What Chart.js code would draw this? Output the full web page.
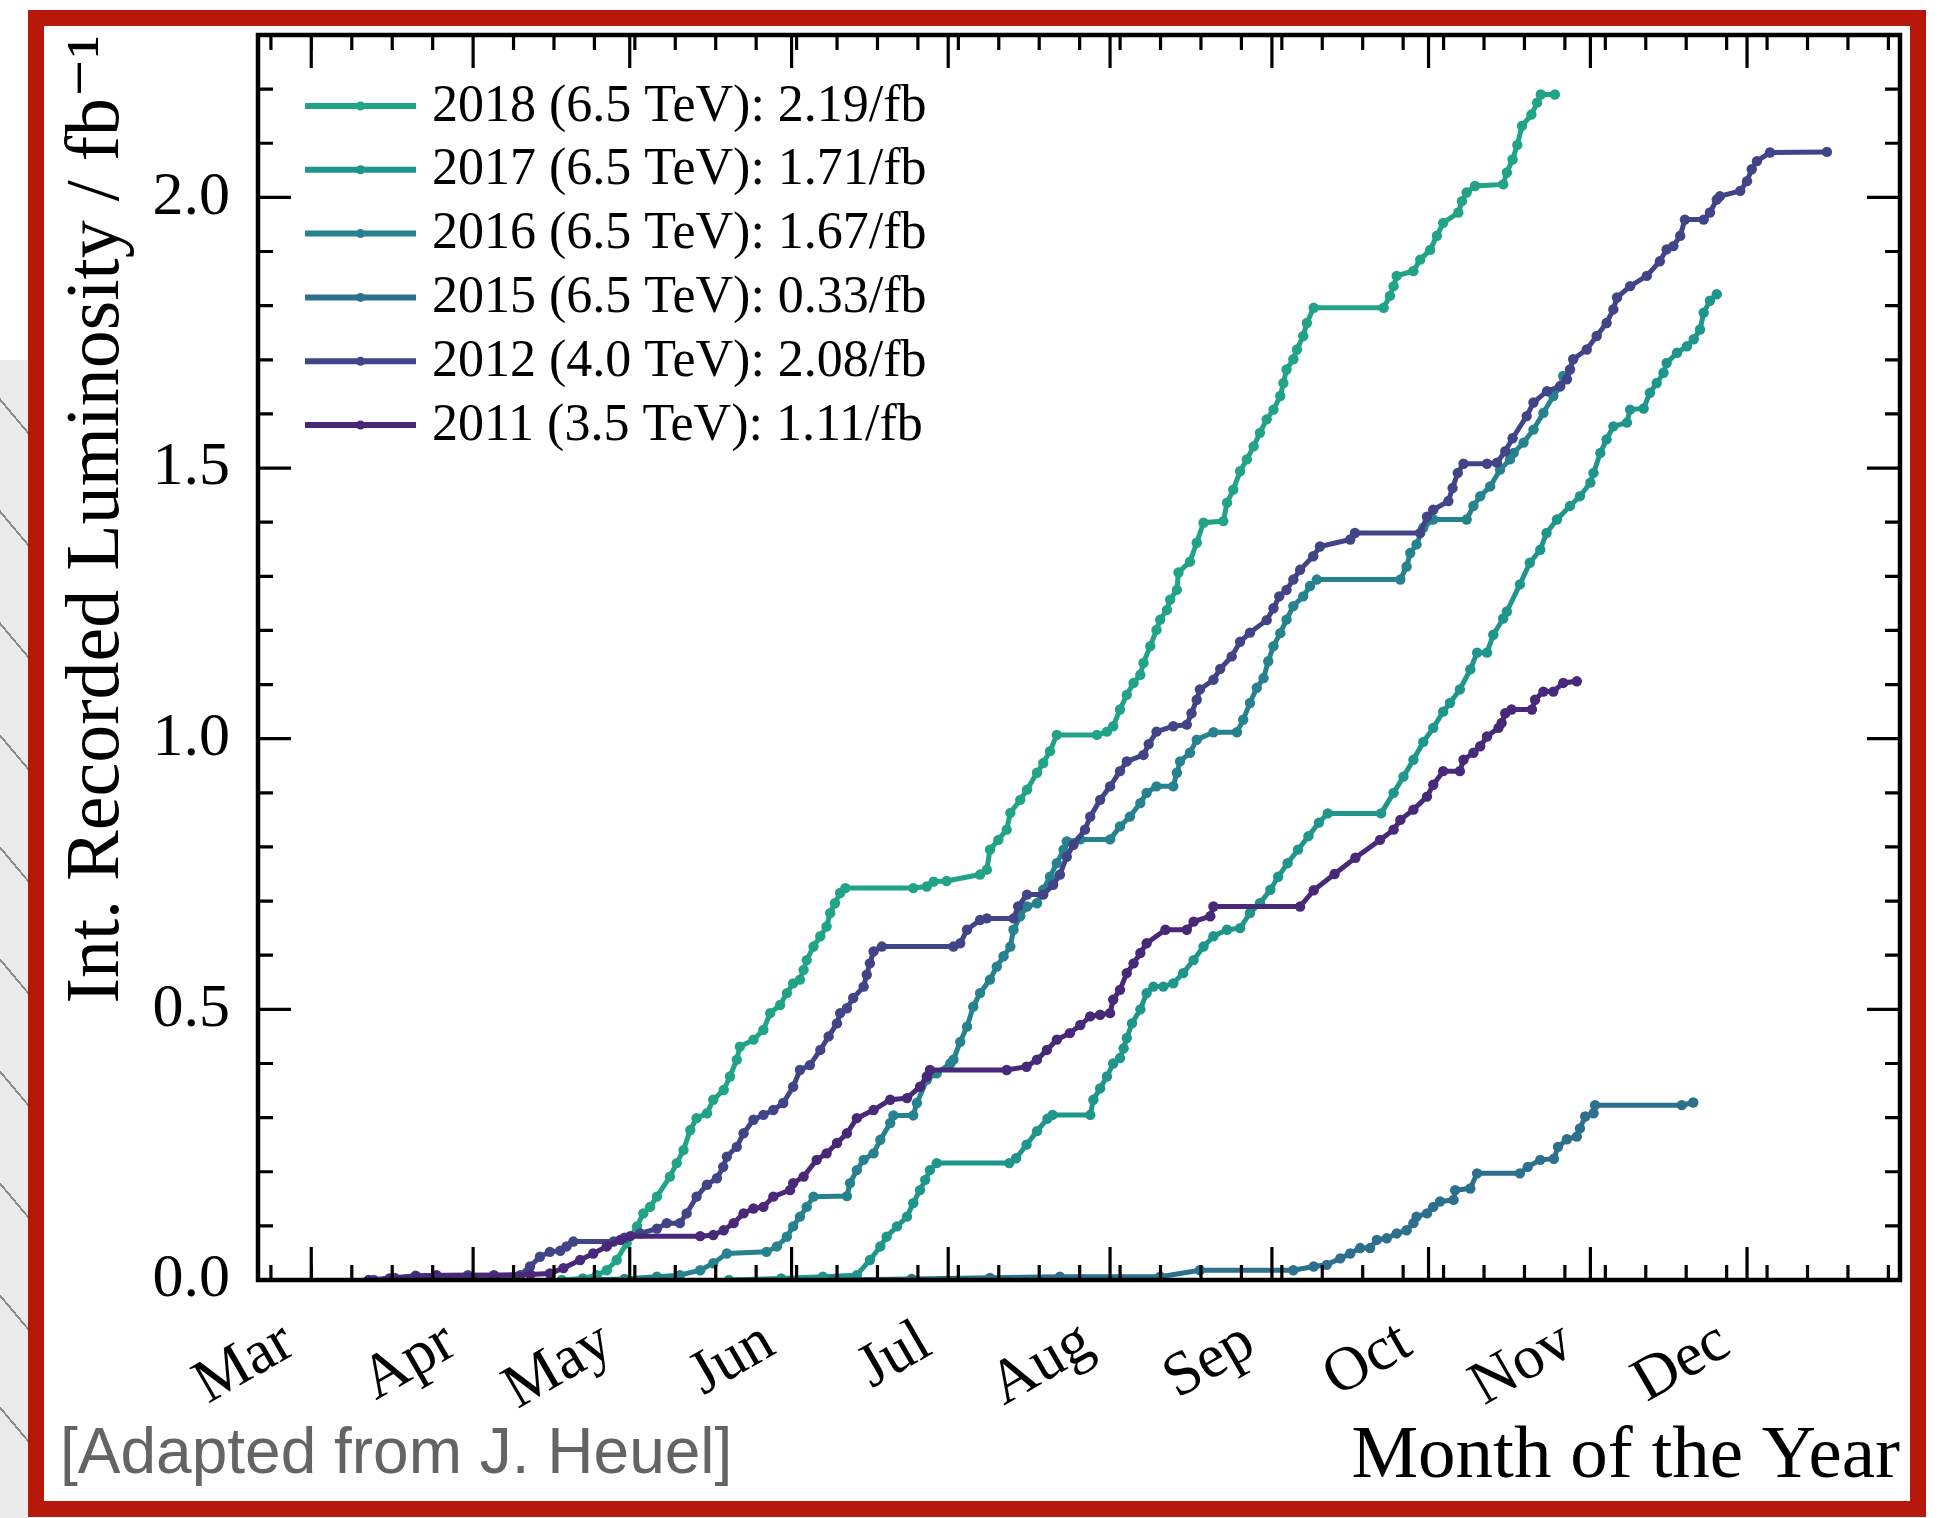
<!DOCTYPE html>
<html>
<head>
<meta charset="utf-8">
<title>Recorded luminosity per year</title>
<script src="https://cdn.jsdelivr.net/npm/chart.js@4.4.0/dist/chart.umd.min.js"></script>
<style>
  html, body { margin: 0; padding: 0; background: #fff; }
  body { width: 1942px; height: 1518px; position: relative; overflow: hidden; }
  #sketch {
    position: absolute; left: 0; top: 360px; width: 30px; height: 1158px;
    background: repeating-linear-gradient(50deg, #ebebeb 0 70px, #8c8c8c 70px 72px);
  }
  #lumiChart { position: absolute; left: 0; top: 0; z-index: 1; }
  #frame {
    position: absolute; left: 28px; top: 10px; width: 1898px; height: 1507px;
    box-sizing: border-box; border: 16px solid #b8170b; z-index: 2; pointer-events: none;
  }
</style>
</head>
<body>
<div id="sketch"></div>
<canvas id="lumiChart" width="1942" height="1518"></canvas>
<div id="frame"></div>
<script>
(function() {
  'use strict';

  // x values are day of year (non-leap year), y values in fb^-1
  var monthStarts = [60, 91, 121, 152, 182, 213, 244, 274, 305, 335];
  var monthLabels = ['Mar', 'Apr', 'May', 'Jun', 'Jul', 'Aug', 'Sep', 'Oct', 'Nov', 'Dec'];
  var yTicks = [0, 0.5, 1.0, 1.5, 2.0];

  var days2018 = [108, 112, 114.7, 116.6, 118.5, 120.4, 122.4, 123.6, 124.9, 126.2,
    128.7, 130, 131.3, 132.6, 133.8, 135.8, 137, 139, 140.2, 141.5,
    142.1, 144.7, 146.6, 147.9, 149.8, 151.1, 152.3, 153.6, 154.3, 154.9,
    156.2, 157.5, 158.7, 159.4, 160.3, 161.3, 162.3, 175.3, 177.9, 179.2,
    181.7, 188.1, 189.4, 190, 191.6, 193.2, 193.9, 195.8, 197.1, 199,
    200.2, 201.5, 202.8, 210.5, 212.4, 213.6, 214.9, 216.2, 217.5, 218.8,
    219.4, 220.7, 221.9, 222.6, 223.9, 224.5, 225.8, 226.1, 228.3, 229.6,
    230.9, 234.7, 235.4, 236.6, 237.9, 239.2, 240.5, 241.7, 243, 244.3,
    245.6, 246.2, 246.8, 248.1, 248.8, 250, 250.7, 252, 265.4, 266.6,
    267.3, 267.9, 271.1, 272.4, 274.3, 275.6, 276.8, 279.7, 280.4, 281.3,
    282.9, 288.3, 289, 290.1, 291, 291.9, 293.7, 294.8, 295.5, 298.2];
  var lumi2018 = [0, 0.003, 0.009, 0.018, 0.037, 0.068, 0.099, 0.123, 0.135, 0.154,
    0.191, 0.216, 0.240, 0.277, 0.299, 0.308, 0.333, 0.351, 0.376, 0.407,
    0.431, 0.444, 0.462, 0.493, 0.508, 0.530, 0.548, 0.555, 0.573, 0.591,
    0.616, 0.635, 0.653, 0.678, 0.696, 0.715, 0.724, 0.724, 0.727, 0.736,
    0.737, 0.749, 0.758, 0.795, 0.813, 0.832, 0.863, 0.887, 0.906, 0.937,
    0.955, 0.977, 1.007, 1.007, 1.013, 1.023, 1.054, 1.081, 1.103, 1.118,
    1.140, 1.171, 1.201, 1.220, 1.238, 1.257, 1.275, 1.307, 1.327, 1.362,
    1.399, 1.402, 1.436, 1.460, 1.494, 1.516, 1.540, 1.565, 1.590, 1.608,
    1.633, 1.657, 1.682, 1.701, 1.719, 1.744, 1.768, 1.796, 1.796, 1.818,
    1.836, 1.855, 1.864, 1.885, 1.903, 1.929, 1.953, 1.972, 1.993, 2.009,
    2.021, 2.024, 2.046, 2.070, 2.097, 2.132, 2.153, 2.175, 2.190, 2.190];

  var days2017 = [140, 150, 158, 164.5, 167, 169, 170.2, 172.2, 174.1, 175.3,
    176.6, 177.6, 178.5, 179.8, 193.7, 195, 197, 199, 201, 202,
    209.2, 209.8, 211.1, 212.4, 213.6, 214.9, 215.6, 216.2, 217.2, 218.8,
    220, 221.3, 223.2, 225.1, 227, 229, 230.9, 232.8, 235.4, 237.9,
    239.8, 241.7, 243.7, 245.2, 247, 249, 251, 253, 254.7, 264.9,
    267.3, 269.2, 271.1, 273, 274.9, 276.8, 278.1, 280, 282, 283.3,
    285.2, 286.4, 288.3, 289, 291.5, 293.4, 295.4, 296.6, 298.6, 301.1,
    303, 305, 305.6, 306.9, 308.1, 309.4, 312, 312.6, 315.2, 316.4,
    317.7, 319, 319.6, 321.6, 323.5, 324.8, 326, 326.7, 327.9, 329.2];
  var lumi2017 = [0, 0.003, 0.006, 0.009, 0.037, 0.062, 0.080, 0.099, 0.117, 0.142,
    0.166, 0.185, 0.203, 0.216, 0.216, 0.225, 0.250, 0.275, 0.298, 0.305,
    0.305, 0.333, 0.354, 0.376, 0.400, 0.410, 0.428, 0.447, 0.474, 0.500,
    0.530, 0.542, 0.542, 0.548, 0.567, 0.591, 0.616, 0.635, 0.647, 0.650,
    0.678, 0.696, 0.721, 0.745, 0.770, 0.795, 0.820, 0.845, 0.862, 0.862,
    0.900, 0.930, 0.961, 0.994, 1.020, 1.050, 1.066, 1.091, 1.128, 1.159,
    1.159, 1.192, 1.222, 1.235, 1.285, 1.325, 1.349, 1.380, 1.405, 1.430,
    1.448, 1.473, 1.491, 1.528, 1.553, 1.577, 1.584, 1.608, 1.610, 1.639,
    1.657, 1.676, 1.694, 1.713, 1.725, 1.738, 1.756, 1.787, 1.809, 1.821];

  var days2016 = [112, 120, 126.2, 130.6, 134.5, 137, 139.6, 147.2, 149.2, 151.1,
    152.3, 153.6, 154.9, 156.2, 162.6, 163.2, 164.5, 165.8, 167.7, 169,
    170.9, 171.5, 175.3, 176, 177.9, 179.8, 182.4, 183, 184.3, 185.6,
    186.8, 188.1, 190, 191.3, 192.6, 193.9, 194.5, 195.8, 197.1, 199,
    200.2, 201.5, 202.8, 204.1, 204.7, 207.3, 213, 214.9, 216.8, 218.8,
    220, 221.9, 225.1, 225.8, 226.4, 228.3, 229.6, 232.8, 237.3, 238.5,
    239.8, 241.1, 242.4, 243.3, 244.3, 245.6, 246.8, 248.1, 250, 251.3,
    252.6, 268.6, 269.8, 270.5, 271.7, 273, 274.9, 281.3, 282.6, 283.9,
    285.8, 287.7, 289.6, 290.3, 292.2, 294.1, 296, 297.9, 299.2, 299.8];
  var lumi2016 = [0, 0.002, 0.006, 0.009, 0.018, 0.031, 0.049, 0.052, 0.062, 0.080,
    0.099, 0.117, 0.135, 0.154, 0.155, 0.179, 0.203, 0.222, 0.234, 0.259,
    0.290, 0.304, 0.304, 0.327, 0.370, 0.382, 0.400, 0.407, 0.440, 0.468,
    0.505, 0.530, 0.555, 0.579, 0.598, 0.616, 0.647, 0.672, 0.690, 0.696,
    0.721, 0.745, 0.770, 0.795, 0.810, 0.814, 0.814, 0.838, 0.856, 0.881,
    0.900, 0.912, 0.912, 0.937, 0.958, 0.974, 0.998, 1.012, 1.012, 1.035,
    1.066, 1.094, 1.112, 1.143, 1.171, 1.195, 1.220, 1.245, 1.263, 1.282,
    1.294, 1.294, 1.318, 1.343, 1.359, 1.390, 1.405, 1.405, 1.430, 1.448,
    1.466, 1.497, 1.516, 1.528, 1.547, 1.571, 1.602, 1.633, 1.651, 1.670];

  var days2015 = [160, 175, 190, 203.4, 222.6, 230.2, 248.1, 252, 254.5, 257.1,
    259, 260.9, 262.8, 264.1, 266, 267.9, 269.8, 271.1, 271.7, 273.7,
    274.9, 276.2, 278.8, 279.1, 282, 283.3, 291.5, 293, 295.4, 298,
    298.8, 300.5, 302.4, 303, 304, 305.6, 305.9, 322.5, 324.7];
  var lumi2015 = [0, 0.002, 0.004, 0.006, 0.006, 0.018, 0.018, 0.025, 0.028, 0.040,
    0.049, 0.059, 0.059, 0.074, 0.077, 0.086, 0.092, 0.105, 0.117, 0.123,
    0.135, 0.145, 0.148, 0.166, 0.169, 0.197, 0.197, 0.209, 0.222, 0.224,
    0.246, 0.260, 0.265, 0.280, 0.302, 0.308, 0.323, 0.323, 0.328];

  var days2012 = [72, 76, 80, 90, 100, 101.9, 103.8, 105.7, 107.7, 108.9,
    110.2, 117.9, 120, 123, 126.2, 128.1, 130.6, 131.9, 133.8, 135.8,
    137.7, 138.9, 139.6, 141.5, 142.8, 144.7, 146.6, 148.5, 150.4, 152.3,
    153.6, 155.5, 157.5, 159.1, 160.7, 161.3, 162.6, 163.8, 165.8, 166.4,
    167, 167.7, 169.3, 183, 184.3, 185.6, 188.1, 189.4, 194.5, 195.4,
    197.1, 200.2, 202.1, 203.4, 204.7, 206, 208.2, 209.2, 211.1, 213,
    214.9, 216.2, 219.4, 220.4, 221.9, 225.1, 227.7, 228.6, 229.6, 230.2,
    232.8, 234.1, 236.3, 237.9, 239.8, 243, 244.3, 245.4, 246.8, 248.1,
    249.4, 251.9, 253.2, 259, 259.9, 272.4, 273.7, 274.9, 277.8, 278.6,
    279.6, 280.7, 285.2, 287.1, 288.7, 290.1, 292.8, 294.1, 296.7, 299.2,
    300.5, 301.1, 301.7, 304.3, 306.2, 308.1, 309.4, 310.1, 312.6, 315.8,
    318.3, 319.6, 320.9, 322.2, 323.1, 326.7, 327.9, 329.2, 329.8, 333.7,
    335, 335.9, 336.9, 339.4, 350.3];
  var lumi2012 = [0, 0.004, 0.008, 0.009, 0.009, 0.025, 0.043, 0.052, 0.054, 0.062,
    0.071, 0.071, 0.078, 0.086, 0.095, 0.105, 0.105, 0.123, 0.154, 0.176,
    0.188, 0.209, 0.228, 0.246, 0.271, 0.296, 0.305, 0.314, 0.327, 0.357,
    0.388, 0.397, 0.425, 0.450, 0.474, 0.493, 0.502, 0.521, 0.542, 0.564,
    0.585, 0.607, 0.616, 0.616, 0.622, 0.647, 0.665, 0.668, 0.668, 0.690,
    0.712, 0.712, 0.730, 0.749, 0.782, 0.804, 0.832, 0.856, 0.887, 0.912,
    0.940, 0.958, 0.970, 0.990, 1.013, 1.023, 1.026, 1.047, 1.072, 1.091,
    1.109, 1.129, 1.152, 1.179, 1.196, 1.219, 1.241, 1.263, 1.275, 1.294,
    1.312, 1.337, 1.355, 1.368, 1.380, 1.380, 1.410, 1.423, 1.439, 1.463,
    1.491, 1.508, 1.508, 1.510, 1.531, 1.555, 1.596, 1.621, 1.642, 1.651,
    1.664, 1.682, 1.701, 1.719, 1.744, 1.768, 1.793, 1.815, 1.836, 1.855,
    1.882, 1.904, 1.910, 1.929, 1.959, 1.959, 1.972, 1.996, 2.002, 2.012,
    2.030, 2.052, 2.067, 2.083, 2.084];

  var days2011 = [71, 75, 80, 84, 95, 102, 105.7, 108.3, 111.5, 114,
    116.6, 119.2, 121.1, 134.5, 137, 139, 140.9, 142.8, 144.7, 146.6,
    148.5, 151.7, 152.3, 154.3, 156.8, 158.7, 160.7, 162.6, 164.5, 167.7,
    170.9, 174.1, 176.6, 177.9, 178.5, 193.2, 197, 199, 200.9, 202.8,
    205.3, 207.3, 209.2, 211.1, 213, 213.6, 214.9, 216.2, 217.5, 218.8,
    220, 223.6, 227.7, 229, 232.2, 232.8, 249.4, 252, 256, 260,
    264.7, 267.3, 268.6, 271.1, 273.7, 274.9, 276.8, 280, 280.7, 282.6,
    283.9, 285.2, 287.4, 288, 288.7, 289.9, 293.8, 294.4, 296, 297.9,
    299.8, 302.4];
  var lumi2011 = [0, 0.003, 0.007, 0.009, 0.009, 0.010, 0.012, 0.022, 0.037, 0.049,
    0.062, 0.074, 0.081, 0.081, 0.083, 0.092, 0.105, 0.123, 0.132, 0.135,
    0.154, 0.166, 0.179, 0.191, 0.222, 0.234, 0.253, 0.271, 0.299, 0.314,
    0.333, 0.336, 0.357, 0.376, 0.388, 0.388, 0.394, 0.407, 0.425, 0.444,
    0.456, 0.471, 0.487, 0.490, 0.493, 0.518, 0.536, 0.567, 0.585, 0.604,
    0.622, 0.647, 0.647, 0.662, 0.672, 0.690, 0.690, 0.720, 0.750, 0.780,
    0.813, 0.832, 0.850, 0.869, 0.893, 0.915, 0.940, 0.940, 0.961, 0.974,
    0.986, 1.004, 1.020, 1.029, 1.047, 1.054, 1.054, 1.072, 1.087, 1.087,
    1.103, 1.106];

  var seriesLabels = [
    '2018 (6.5 TeV): 2.19/fb',
    '2017 (6.5 TeV): 1.71/fb',
    '2016 (6.5 TeV): 1.67/fb',
    '2015 (6.5 TeV): 0.33/fb',
    '2012 (4.0 TeV): 2.08/fb',
    '2011 (3.5 TeV): 1.11/fb'
  ];
  var seriesDays = [days2018, days2017, days2016, days2015, days2012, days2011];
  var seriesLumi = [lumi2018, lumi2017, lumi2016, lumi2015, lumi2012, lumi2011];
  var seriesColors = ['#20a386', '#1f968b', '#26828e', '#2d708e', '#414487', '#482878'];

  var serif = '"Liberation Serif", "DejaVu Serif", serif';
  var minorDayStep = 7.745;

  function toPoints(days, lumi) {
    return days.map(function(d, i) { return { x: d, y: lumi[i] }; });
  }

  var datasets = seriesLabels.map(function(label, i) {
    return {
      label: label,
      data: toPoints(seriesDays[i], seriesLumi[i]),
      borderColor: seriesColors[i],
      backgroundColor: seriesColors[i],
      borderWidth: 5,
      pointRadius: 5.2,
      pointBorderWidth: 0,
      tension: 0,
      // older years end up on top, like the original plot order
      order: seriesLabels.length - 1 - i
    };
  });

  //// ticks, frame, legend and credit ////
  var axesDecor = {
    id: 'axesDecor',
    afterDraw: function(chart) {
      var ctx = chart.ctx;
      var a = chart.chartArea;
      var xs = chart.scales.x;
      var ys = chart.scales.y;
      var major = 33, minor = 15;

      ctx.save();
      ctx.strokeStyle = '#000';
      ctx.lineCap = 'butt';

      ctx.lineWidth = 3.2;
      ctx.beginPath();
      var k0 = Math.ceil((xs.min - monthStarts[1]) / minorDayStep);
      var k1 = Math.floor((xs.max - monthStarts[1]) / minorDayStep);
      for (var k = k0; k <= k1; k++) {
        var px = xs.getPixelForValue(monthStarts[1] + k * minorDayStep);
        ctx.moveTo(px, a.bottom); ctx.lineTo(px, a.bottom - minor);
        ctx.moveTo(px, a.top); ctx.lineTo(px, a.top + minor);
      }
      monthStarts.forEach(function(d) {
        var px = xs.getPixelForValue(d);
        ctx.moveTo(px, a.bottom); ctx.lineTo(px, a.bottom - major);
        ctx.moveTo(px, a.top); ctx.lineTo(px, a.top + major);
      });
      for (var i = 1; i <= 23; i++) {
        var py = ys.getPixelForValue(i / 10);
        var len = (i % 5 === 0) ? major : minor;
        ctx.moveTo(a.left, py); ctx.lineTo(a.left + len, py);
        ctx.moveTo(a.right, py); ctx.lineTo(a.right - len, py);
      }
      ctx.stroke();

      ctx.lineWidth = 4.5;
      ctx.strokeRect(a.left, a.top, a.right - a.left, a.bottom - a.top);

      // legend in the upper left corner
      var lx = a.left + 47, lineLen = 111, rowY = a.top + 71, rowGap = 63.8;
      ctx.font = '52px ' + serif;
      ctx.textBaseline = 'middle';
      ctx.textAlign = 'left';
      chart.data.datasets.forEach(function(ds, n) {
        var y = rowY + n * rowGap;
        ctx.strokeStyle = ds.borderColor;
        ctx.lineWidth = 6;
        ctx.beginPath();
        ctx.moveTo(lx, y); ctx.lineTo(lx + lineLen, y);
        ctx.stroke();
        ctx.fillStyle = ds.borderColor;
        ctx.beginPath();
        ctx.arc(lx + lineLen / 2, y, 4.5, 0, Math.PI * 2);
        ctx.fill();
        ctx.fillStyle = '#000';
        ctx.fillText(ds.label, lx + lineLen + 16, y + 1);
      });

      ctx.font = '64px "Liberation Sans", Arial, sans-serif';
      ctx.fillStyle = '#646464';
      ctx.textBaseline = 'alphabetic';
      ctx.fillText('[Adapted from J. Heuel]', 60, 1473);
      ctx.restore();
    }
  };

  var ctx = document.getElementById('lumiChart');

  var lumiChart = new Chart(ctx, {
    type: 'line',
    data: { datasets: datasets },
    plugins: [axesDecor],
    options: {
      responsive: false,
      devicePixelRatio: 1,
      animation: false,
      layout: { padding: { left: 40, right: 42, top: 35, bottom: 0 } },
      plugins: { legend: { display: false }, tooltip: { enabled: false } },
      scales: {
        x: {
          type: 'linear',
          min: 49.8,
          max: 364.3,
          grid: { display: false, drawTicks: false },
          border: { display: false },
          afterBuildTicks: function(axis) {
            axis.ticks = monthStarts.map(function(v) { return { value: v }; });
          },
          afterFit: function(axis) {
            axis.height = 238;
            axis.paddingLeft = 0;
            axis.paddingRight = 0;
          },
          ticks: {
            autoSkip: false,
            minRotation: 30,
            maxRotation: 30,
            padding: 26,
            labelOffset: -22,
            color: '#000',
            font: { family: serif, size: 62 },
            callback: function(v, i) { return monthLabels[i]; }
          },
          title: {
            display: true,
            text: 'Month of the Year',
            align: 'end',
            color: '#000',
            font: { family: serif, size: 75, lineHeight: 1 },
            padding: { top: 0, bottom: 23 }
          }
        },
        y: {
          min: 0,
          max: 2.3,
          grid: { display: false, drawTicks: false },
          border: { display: false },
          afterBuildTicks: function(axis) {
            axis.ticks = yTicks.map(function(v) { return { value: v }; });
          },
          afterFit: function(axis) {
            axis.width = 218;
            axis.paddingTop = 0;
            axis.paddingBottom = 0;
          },
          ticks: {
            padding: 28,
            color: '#000',
            font: { family: serif, size: 62 },
            callback: function(v) { return v.toFixed(1); }
          },
          title: {
            display: true,
            text: 'Int. Recorded Luminosity / fb\u207B\u00B9',
            align: 'end',
            color: '#000',
            font: { family: serif, size: 76, lineHeight: 1 },
            padding: { top: 20, bottom: 0 }
          }
        }
      }
    }
  });
})();
</script>
</body>
</html>
